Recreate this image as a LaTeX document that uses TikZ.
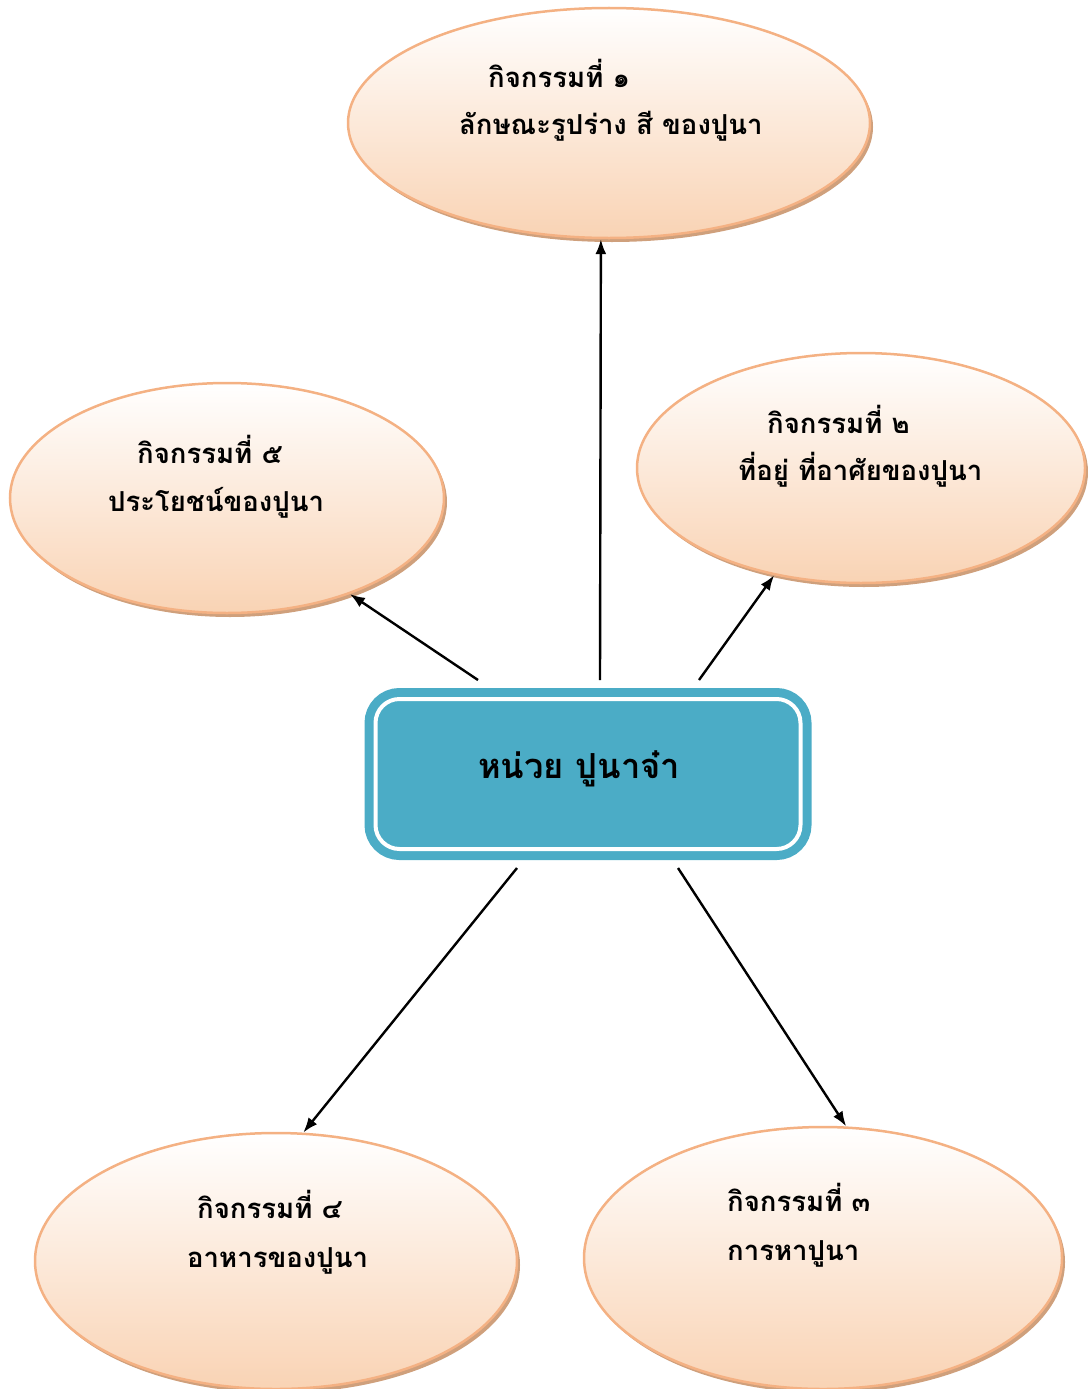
\documentclass[tikz,border=0pt]{standalone}
\usepackage{fontspec}
\newfontfamily\thaifont[Script=Thai]{Loma}
\usetikzlibrary{shapes.geometric,shadows,arrows.meta}
\definecolor{unitblue}{HTML}{4BACC6}
\definecolor{actline}{HTML}{F4B183}
\definecolor{actfill}{HTML}{F9D3B4}
\definecolor{actshadow}{HTML}{CFA07C}
\tikzset{
  activity/.style={ellipse, draw=actline, line width=2.5pt, inner sep=0pt,
    top color=white, bottom color=actfill,
    drop shadow={shadow xshift=3pt, shadow yshift=-4pt, fill=actshadow, opacity=1}},
  acttext/.style={anchor=base west, inner sep=0pt,
    font=\thaifont\bfseries\fontsize{27.5}{32}\selectfont},
  link/.style={-{Latex[length=15pt,width=11pt]}, line width=2.4pt}
}
\begin{document}
\begin{tikzpicture}[x=1pt,y=-1pt]
\useasboundingbox (0,0) rectangle (1087,1389); % page size

% centre box
\node[rounded corners=24pt, minimum width=425pt, minimum height=150pt,
      fill=unitblue, draw=white, line width=4pt,
      preaction={draw=unitblue, line width=22pt}] (unit) at (588,774) {};
\node[anchor=base west, inner sep=0pt,
      font=\thaifont\bfseries\fontsize{34.5}{42}\selectfont] (unitname) at (478,778) {หน่วย ปูนาจ๋า};

% activities
\node[activity, minimum width=522pt, minimum height=230pt] (act1) at (609,123) {};
\node[activity, minimum width=448pt, minimum height=230pt] (act2) at (861,468) {};
\node[activity, minimum width=478pt, minimum height=262pt] (act3) at (823,1258) {};
\node[activity, minimum width=482pt, minimum height=256pt] (act4) at (276,1261) {};
\node[activity, minimum width=434pt, minimum height=230pt] (act5) at (227,498) {};

\node[acttext] (t1a) at (488,87)   {กิจกรรมที่ ๑};
\node[acttext] (t1b) at (459,134)  {ลักษณะรูปร่าง สี ของปูนา};
\node[acttext] (t2a) at (767,433)  {กิจกรรมที่ ๒};
\node[acttext] (t2b) at (738,480)  {ที่อยู่ ที่อาศัยของปูนา};
\node[acttext] (t3a) at (727,1211) {กิจกรรมที่ ๓};
\node[acttext] (t3b) at (727,1260) {การหาปูนา};
\node[acttext] (t4a) at (197,1218) {กิจกรรมที่ ๔};
\node[acttext] (t4b) at (187,1267) {อาหารของปูนา};
\node[acttext] (t5a) at (137,463)  {กิจกรรมที่ ๕};
\node[acttext] (t5b) at (108,511)  {ประโยชน์ของปูนา};

% arrows
\coordinate (s1) at (600,680);
\coordinate (s2) at (478,680);
\coordinate (s3) at (699,680);
\coordinate (s4) at (517,868);
\coordinate (s5) at (678,868);
\draw[link] (s1) -- (act1.-94);
\draw[link] (s2) -- (act5.-38);
\draw[link] (s3) -- (act2.-129);
\draw[link] (s4) -- (act4.78);
\draw[link] (s5) -- (act3.80);
\end{tikzpicture}
\end{document}
